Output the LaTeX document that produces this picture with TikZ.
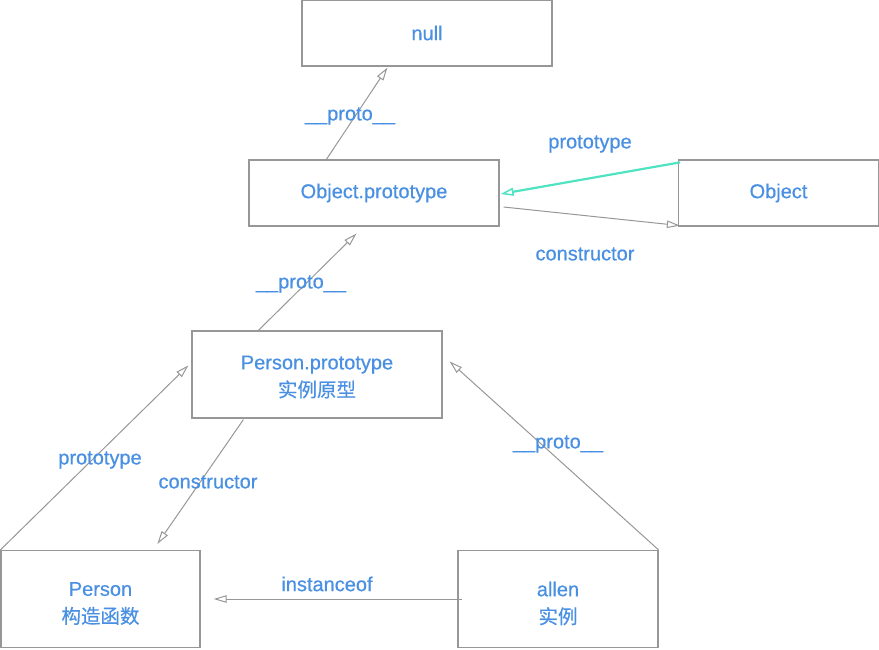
\documentclass[tikz,border=0pt]{standalone}
\usepackage{fontspec}
\setmainfont{Liberation Sans}[FakeBold=0.6]
\newfontfamily\cjk{Noto Sans CJK SC}[FakeBold=0.5]
\usetikzlibrary{arrows.meta,calc}
\definecolor{txtblue}{HTML}{4A90E2}
\definecolor{linegray}{HTML}{979797}
\definecolor{tealc}{HTML}{50E3C2}
\tikzset{
  box/.style={draw=linegray, line width=1.2pt, rectangle, inner sep=0pt, text=txtblue, align=center,
    font=\fontsize{20}{27.5}\selectfont},
  txt/.style={text=txtblue, align=center, inner sep=0pt, font=\fontsize{20}{27.5}\selectfont},
  lbl/.style={text=txtblue, font=\fontsize{20}{22}\selectfont, inner sep=0pt},
  conn/.style={draw=linegray, line width=1pt, -{Triangle[open, length=13pt, width=7.5pt]}},
  tconn/.style={draw=tealc, line width=2.2pt, -{Triangle[open, length=13pt, width=8pt, line width=1.5pt]}}
}
\newcommand{\cjktext}[1]{{\cjk\fontsize{19.5}{27.5}\selectfont #1}}
\begin{document}
\begin{tikzpicture}[x=1pt,y=-1pt]
\useasboundingbox (0,0) rectangle (879,649);
\node[box, minimum width=250pt, minimum height=66pt] (null) at (427,33) {null};
\node[box, minimum width=250pt, minimum height=66pt] (objp) at (374,193) {\raisebox{-2pt}{Object.prototype}};
\node[box, minimum width=200pt, minimum height=66pt] (obj) at (778.5,193) {Object};
\node[box, minimum width=250pt, minimum height=87pt] (pp) at (317,374.5) {};
\node[txt] (ppt) at ($(pp.center)+(0,2.5)$) {Person.prototype\\\cjktext{实例原型}};
\node[box, minimum width=199pt, minimum height=97pt] (person) at (100.5,599) {};
\node[txt] (persont) at ($(person.center)+(0,4.5)$) {Person\\\cjktext{构造函数}};
\node[box, minimum width=200pt, minimum height=97pt] (allen) at (558,599) {};
\node[txt] (allent) at ($(allen.center)+(0,4.5)$) {allen\\\cjktext{实例}};

\draw[conn] ($(objp.north west)+(78,0)$) -- ($(null.south west)+(86,1)$);
\draw[tconn] ($(obj.north west)+(2,3)$) -- ($(objp.east)+(1,1)$);
\draw[conn] ($(objp.east)+(4,14)$) -- ($(obj.south west)+(2,-1)$);
\draw[conn] ($(pp.north west)+(67,0)$) -- ($(objp.south west)+(108,7)$);
\draw[conn] (person.north west) -- ($(pp.north west)+(-3,35)$);
\draw[conn] ($(pp.south west)+(52,1)$) -- ($(person.north west)+(157,-6)$);
\draw[conn] (allen.north east) -- ($(pp.north east)+(7,31)$);
\draw[conn] ($(allen.west)+(5,0)$) -- ($(person.east)+(13,0)$);

\node[lbl] (l1) at (350,116) {\_\_proto\_\_};
\node[lbl] (l2) at (590,144) {prototype};
\node[lbl] (l3) at (585,254) {constructor};
\node[lbl] (l4) at (301,284) {\_\_proto\_\_};
\node[lbl] (l5) at (100,460) {prototype};
\node[lbl] (l6) at (208,482) {constructor};
\node[lbl] (l7) at (558,444) {\_\_proto\_\_};
\node[lbl] (l8) at (327,584) {instanceof};
\end{tikzpicture}
\end{document}
